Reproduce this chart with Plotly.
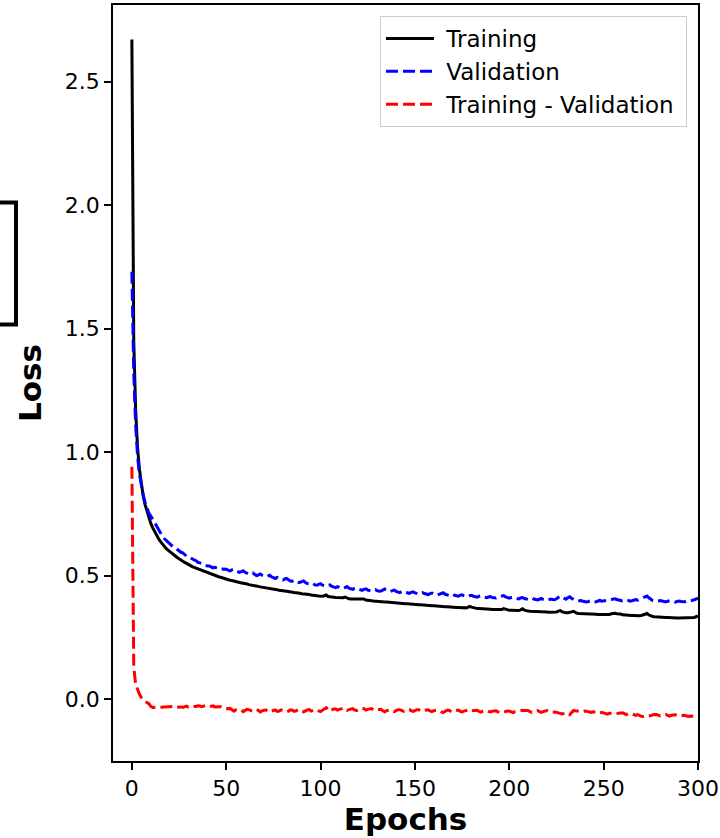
import plotly.graph_objects as go
import numpy as np

epochs = list(range(0, 301))

training = [
    2.670, 1.450, 1.170, 1.020, 0.930, 0.868, 0.822, 0.787, 0.758, 0.733,
    0.712, 0.694, 0.678, 0.664, 0.651, 0.639, 0.629, 0.619, 0.611, 0.604,
    0.597, 0.590, 0.585, 0.578, 0.573, 0.568, 0.562, 0.558, 0.553, 0.549,
    0.544, 0.541, 0.536, 0.533, 0.530, 0.526, 0.523, 0.519, 0.517, 0.513,
    0.511, 0.508, 0.506, 0.503, 0.501, 0.498, 0.495, 0.493, 0.490, 0.488,
    0.486, 0.483, 0.481, 0.480, 0.477, 0.476, 0.474, 0.472, 0.471, 0.468,
    0.467, 0.466, 0.463, 0.462, 0.461, 0.458, 0.457, 0.456, 0.454, 0.453,
    0.451, 0.450, 0.448, 0.448, 0.446, 0.444, 0.444, 0.442, 0.440, 0.440,
    0.438, 0.437, 0.436, 0.434, 0.434, 0.432, 0.431, 0.430, 0.430, 0.428,
    0.426, 0.426, 0.425, 0.423, 0.423, 0.421, 0.421, 0.419, 0.418, 0.417,
    0.416, 0.416, 0.418, 0.421, 0.415, 0.413, 0.412, 0.412, 0.411, 0.410,
    0.409, 0.409, 0.410, 0.413, 0.409, 0.406, 0.405, 0.405, 0.404, 0.403,
    0.402, 0.402, 0.403, 0.405, 0.401, 0.399, 0.398, 0.398, 0.397, 0.396,
    0.396, 0.395, 0.395, 0.394, 0.393, 0.393, 0.392, 0.391, 0.391, 0.390,
    0.389, 0.389, 0.388, 0.388, 0.387, 0.386, 0.386, 0.385, 0.385, 0.384,
    0.383, 0.383, 0.382, 0.382, 0.381, 0.381, 0.380, 0.379, 0.379, 0.378,
    0.378, 0.377, 0.377, 0.376, 0.376, 0.375, 0.374, 0.374, 0.373, 0.373,
    0.372, 0.372, 0.371, 0.371, 0.370, 0.370, 0.369, 0.369, 0.371, 0.375,
    0.372, 0.369, 0.367, 0.366, 0.366, 0.365, 0.365, 0.364, 0.364, 0.363,
    0.363, 0.362, 0.362, 0.361, 0.361, 0.361, 0.362, 0.366, 0.363, 0.360,
    0.359, 0.359, 0.358, 0.358, 0.357, 0.358, 0.361, 0.365, 0.360, 0.357,
    0.356, 0.355, 0.355, 0.354, 0.354, 0.354, 0.353, 0.353, 0.352, 0.352,
    0.352, 0.351, 0.351, 0.350, 0.350, 0.352, 0.356, 0.358, 0.353, 0.350,
    0.349, 0.349, 0.350, 0.353, 0.355, 0.350, 0.347, 0.346, 0.346, 0.345,
    0.345, 0.344, 0.344, 0.344, 0.343, 0.343, 0.343, 0.342, 0.342, 0.342,
    0.341, 0.341, 0.341, 0.342, 0.345, 0.347, 0.347, 0.345, 0.346, 0.344,
    0.341, 0.340, 0.339, 0.339, 0.338, 0.338, 0.338, 0.337, 0.337, 0.337,
    0.338, 0.340, 0.344, 0.346, 0.340, 0.336, 0.334, 0.333, 0.332, 0.332,
    0.331, 0.331, 0.330, 0.330, 0.330, 0.329, 0.329, 0.329, 0.328, 0.328,
    0.328, 0.328, 0.328, 0.328, 0.328, 0.328, 0.328, 0.329, 0.330, 0.333,
    0.337,
]

validation = [
    1.730, 1.320, 1.110, 0.985, 0.910, 0.862, 0.826, 0.797, 0.772, 0.752,
    0.742, 0.728, 0.712, 0.699, 0.685, 0.672, 0.662, 0.651, 0.643, 0.635,
    0.628, 0.620, 0.615, 0.612, 0.606, 0.598, 0.594, 0.592, 0.584, 0.578,
    0.577, 0.572, 0.565, 0.563, 0.560, 0.553, 0.551, 0.550, 0.546, 0.540,
    0.540, 0.539, 0.535, 0.531, 0.533, 0.531, 0.526, 0.524, 0.526, 0.527,
    0.525, 0.522, 0.519, 0.523, 0.526, 0.520, 0.515, 0.513, 0.516, 0.519,
    0.513, 0.508, 0.506, 0.509, 0.511, 0.505, 0.500, 0.502, 0.506, 0.501,
    0.496, 0.494, 0.498, 0.501, 0.495, 0.490, 0.488, 0.492, 0.489, 0.484,
    0.482, 0.486, 0.488, 0.483, 0.478, 0.477, 0.481, 0.478, 0.473, 0.472,
    0.476, 0.478, 0.472, 0.467, 0.466, 0.470, 0.467, 0.462, 0.461, 0.465,
    0.467, 0.461, 0.457, 0.456, 0.460, 0.462, 0.456, 0.452, 0.451, 0.455,
    0.451, 0.448, 0.447, 0.452, 0.455, 0.449, 0.445, 0.444, 0.448, 0.450,
    0.445, 0.441, 0.440, 0.444, 0.446, 0.441, 0.438, 0.437, 0.441, 0.443,
    0.439, 0.436, 0.437, 0.442, 0.445, 0.440, 0.436, 0.435, 0.439, 0.441,
    0.436, 0.432, 0.431, 0.435, 0.437, 0.432, 0.429, 0.428, 0.432, 0.434,
    0.430, 0.426, 0.425, 0.429, 0.431, 0.427, 0.424, 0.423, 0.427, 0.429,
    0.425, 0.421, 0.421, 0.425, 0.428, 0.430, 0.424, 0.420, 0.419, 0.423,
    0.425, 0.420, 0.417, 0.416, 0.420, 0.422, 0.418, 0.415, 0.414, 0.418,
    0.420, 0.416, 0.413, 0.412, 0.416, 0.418, 0.414, 0.411, 0.410, 0.413,
    0.415, 0.411, 0.409, 0.409, 0.413, 0.415, 0.418, 0.419, 0.413, 0.409,
    0.408, 0.411, 0.413, 0.409, 0.406, 0.405, 0.409, 0.411, 0.407, 0.404,
    0.403, 0.406, 0.409, 0.405, 0.402, 0.401, 0.404, 0.407, 0.403, 0.400,
    0.399, 0.402, 0.405, 0.403, 0.402, 0.406, 0.412, 0.417, 0.413, 0.408,
    0.404, 0.410, 0.414, 0.408, 0.402, 0.398, 0.396, 0.397, 0.399, 0.396,
    0.394, 0.393, 0.395, 0.398, 0.396, 0.393, 0.394, 0.397, 0.399, 0.396,
    0.397, 0.400, 0.402, 0.400, 0.401, 0.404, 0.406, 0.403, 0.401, 0.399,
    0.397, 0.399, 0.402, 0.399, 0.396, 0.398, 0.401, 0.403, 0.400, 0.404,
    0.408, 0.411, 0.413, 0.417, 0.410, 0.403, 0.398, 0.396, 0.395, 0.397,
    0.399, 0.396, 0.394, 0.393, 0.396, 0.398, 0.395, 0.393, 0.392, 0.395,
    0.397, 0.395, 0.393, 0.394, 0.397, 0.399, 0.397, 0.398, 0.402, 0.405,
    0.408,
]

difference = (np.array(training) - np.array(validation)).tolist()

series_names = ["Training", "Validation", "Training - Validation"]
x_ticks = [0, 50, 100, 150, 200, 250, 300]
y_ticks = [0.0, 0.5, 1.0, 1.5, 2.0, 2.5]

W, H = 720, 838
L, R, T, B = 113, 22, 5, 77
PAD = "\u00a0"

fig = go.Figure()
fig.add_trace(go.Scatter(x=epochs, y=training, mode="lines", name=PAD + series_names[0] + PAD,
                         legendgroup="a",
                         line=dict(color="black", width=3)))
fig.add_trace(go.Scatter(x=epochs, y=validation, mode="lines", name=PAD + series_names[1] + PAD,
                         legendgroup="b",
                         line=dict(color="#0000ff", width=3, dash="12px,5px")))
fig.add_trace(go.Scatter(x=epochs, y=difference, mode="lines",
                         name=PAD + series_names[2] + PAD, legendgroup="c",
                         line=dict(color="#ff0000", width=3, dash="12px,5px")))

pw = W - L - R
ph = H - T - B
def px(xp):
    return (xp - L) / pw
def py(yp):
    return (H - B - yp) / ph

fig.add_shape(type="path", xref="paper", yref="paper",
              path=f"M {px(-2)},{py(202.5)} L {px(16)},{py(202.5)} L {px(16)},{py(324.5)} L {px(-2)},{py(324.5)}",
              line=dict(color="black", width=4))

axis_common = dict(showline=True, linecolor="black", linewidth=1.8, mirror=True,
                   ticks="outside", ticklen=7, tickwidth=1.8, tickcolor="black",
                   showgrid=False, zeroline=False, automargin=False,
                   tickfont=dict(family="DejaVu Sans", size=22, color="black"))

fig.update_layout(
    width=W, height=H,
    margin=dict(l=L, r=R, t=T, b=B),
    paper_bgcolor="white", plot_bgcolor="white",
    font=dict(family="DejaVu Sans", color="black"),
    xaxis=dict(range=[-10, 300], tickvals=x_ticks,
               title=dict(text="<b>Epochs</b>", font=dict(size=31, family="DejaVu Sans"), standoff=8),
               **axis_common),
    yaxis=dict(range=[-0.251, 2.81], tickvals=y_ticks, tickformat=".1f",
               title=dict(text="<b>Loss</b>", font=dict(size=31, family="DejaVu Sans"), standoff=14),
               **axis_common),
    legend=dict(x=px(687), y=py(16), xanchor="right", yanchor="top",
                bgcolor="rgba(255,255,255,0.8)", bordercolor="#cccccc", borderwidth=1,
                font=dict(size=23, family="DejaVu Sans"), tracegroupgap=0,
                itemwidth=48),
    showlegend=True,
)

fig.write_html("out.html")
